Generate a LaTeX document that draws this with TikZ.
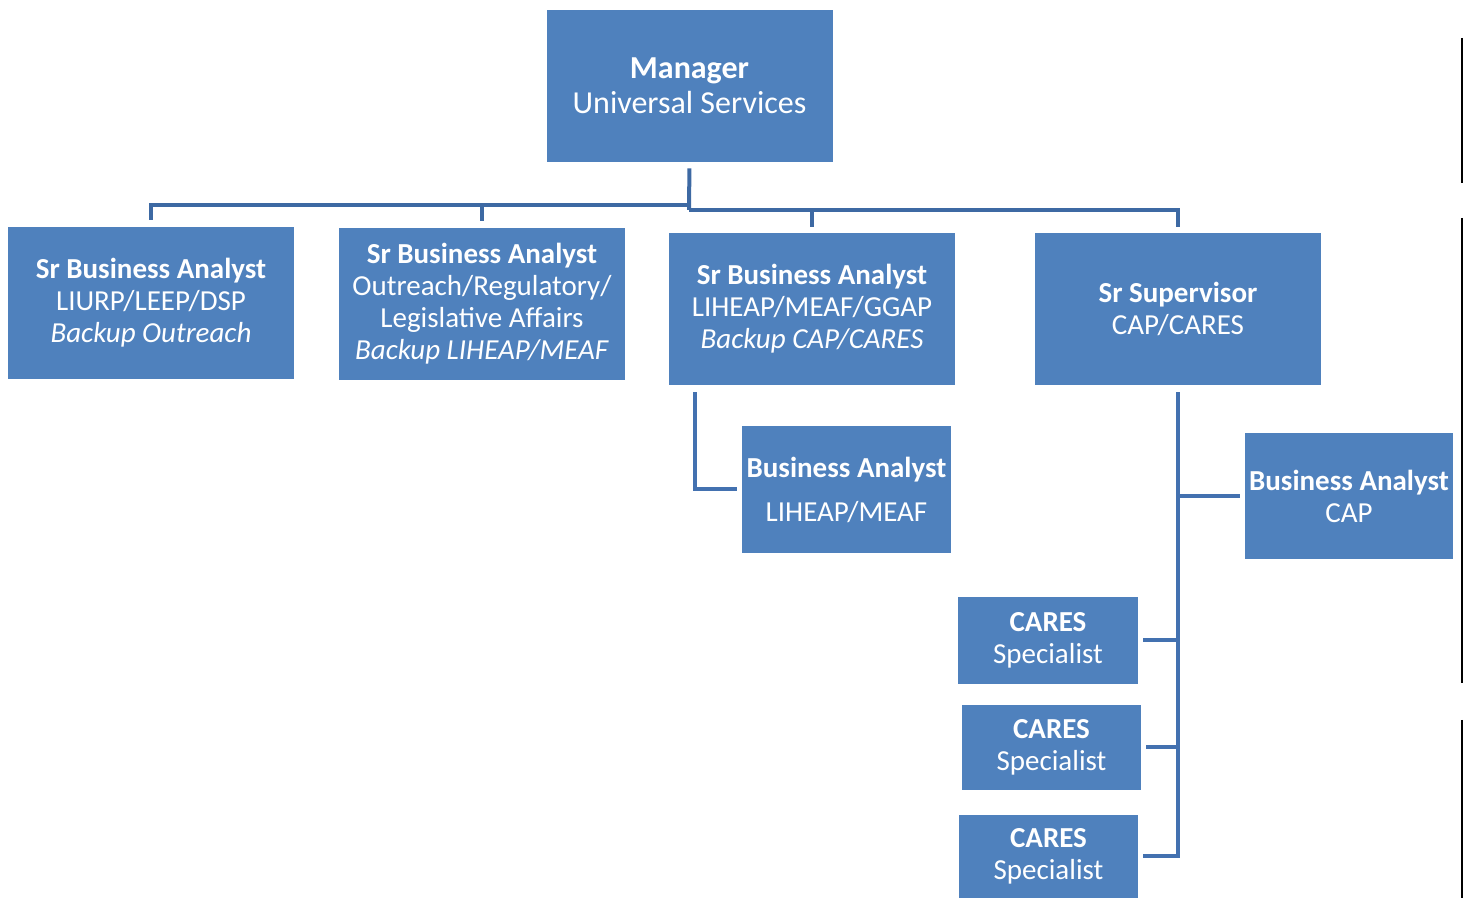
\documentclass[tikz,border=0pt]{standalone}
\usepackage{fontspec}
\setmainfont{Carlito}
\usepackage{xcolor}
\usepackage{tikz}
\usetikzlibrary{positioning,calc}
\definecolor{boxblue}{HTML}{4F81BD}
\definecolor{lineblue}{HTML}{4371B0}
\definecolor{busblue}{HTML}{3D69A3}

\begin{document}
\begin{tikzpicture}[x=0.5pt, y=-0.5pt,
  box/.style={fill=boxblue, text=white, align=center, inner sep=1pt, font=\fontsize{14.5}{16}\selectfont},
  bigbox/.style={box, minimum width=143pt, minimum height=76pt},
  link/.style={draw=lineblue, line width=2pt},
  bus/.style={link, draw=busblue},
  edge/.style={draw=black, line width=1pt}]

\useasboundingbox (0,0) rectangle (1464,898);

\node[bigbox, font=\fontsize{16}{17.5}\selectfont] (mgr) at (689.5,86) {\textbf{Manager}\\ Universal Services};

\node[bigbox] (sba1) at (151,303) {\textbf{Sr Business Analyst}\\ LIURP/LEEP/DSP\\ \textit{Backup Outreach}};
\node[bigbox] (sba2) at (482,304) {\textbf{Sr Business Analyst}\\ Outreach/Regulatory/\\ Legislative Affairs\\ \textit{Backup LIHEAP/MEAF}};
\node[bigbox] (sba3) at (812,309) {\textbf{Sr Business Analyst}\\ LIHEAP/MEAF/GGAP\\ \textit{Backup CAP/CARES}};
\node[bigbox] (srsup) at (1178,309) {\textbf{Sr Supervisor}\\ CAP/CARES};

\node[box, minimum width=104.5pt, minimum height=63.5pt, font=\fontsize{14.5}{22}\selectfont] (balih) at (846.5,489.5) {\textbf{Business Analyst}\\ LIHEAP/MEAF};
\node[box, minimum width=104pt, minimum height=63pt] (bacap) at (1349,496) {\textbf{Business Analyst}\\ CAP};

\node[box, minimum width=90pt, minimum height=43.5pt] (cares1) at (1048,640.5) {\textbf{CARES}\\ Specialist};
\node[box, minimum width=89.5pt, minimum height=42.5pt] (cares2) at (1051.5,747.5) {\textbf{CARES}\\ Specialist};
\node[box, minimum width=89.5pt, minimum height=41.5pt] (cares3) at (1048.5,856.5) {\textbf{CARES}\\ Specialist};

\coordinate (busL) at (689,205);
\coordinate (busR) at (689,210);

\draw[bus, shorten <=3pt] (mgr.south) -- (busR);
\draw[bus, shorten >=3.5pt] (busL) -| (sba1.north);
\draw[bus, shorten >=3.5pt] (busL) -| (sba2.north);
\draw[bus, shorten >=3pt] (busR) -| (sba3.north);
\draw[bus, shorten >=3pt] (busR) -| (srsup.north);

\draw[link, shorten <=3.5pt, shorten >=2.5pt] ([xshift=13pt]sba3.south west) |- (balih.west);
\draw[link, shorten <=3.5pt, shorten >=2.5pt] (srsup.south) |- (cares3.east);
\draw[link, shorten >=2.5pt] (srsup.south |- bacap.west) -- (bacap.west);
\draw[link, shorten >=2.5pt] (srsup.south |- cares1.east) -- (cares1.east);
\draw[link, shorten >=2.5pt] (srsup.south |- cares2.east) -- (cares2.east);

\draw[edge] (1462,38) -- (1462,183);
\draw[edge] (1462,218) -- (1462,683);
\draw[edge] (1462,720) -- (1462,898);
\end{tikzpicture}
\end{document}
